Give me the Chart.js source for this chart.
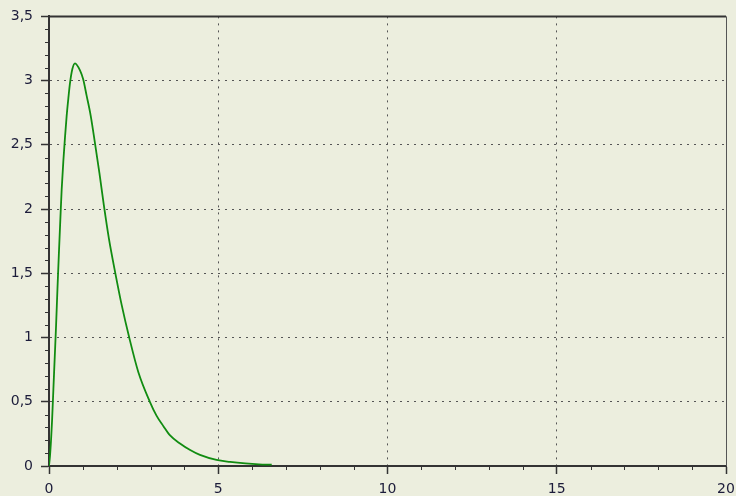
<!DOCTYPE html>
<html>
<head>
<meta charset="utf-8">
<script src="https://cdn.jsdelivr.net/npm/chart.js@4.4.1/dist/chart.umd.min.js"></script>
<style>
  html, body { margin: 0; padding: 0; background: #ECEEDE; }
  #wrap { width: 736px; height: 496px; }
</style>
</head>
<body>
<div id="wrap"><canvas id="c" width="736" height="496"></canvas></div>
<script>
// Density curve sampled along x
const xValues = [0, 0.03, 0.06, 0.09, 0.13, 0.17, 0.21, 0.25, 0.29, 0.335, 0.374, 0.423, 0.473, 0.52, 0.571, 0.62, 0.69, 0.768, 0.916, 1.01, 1.11, 1.23, 1.36, 1.49, 1.62, 1.77, 1.96, 2.15, 2.37, 2.64, 2.98, 3.18, 3.38, 3.57, 3.87, 4.17, 4.46, 4.95, 5.35, 5.80, 6.20, 6.58];
const yValues = [0, 0.08, 0.20, 0.35, 0.60, 0.85, 1.10, 1.38, 1.64, 1.92, 2.15, 2.37, 2.56, 2.72, 2.86, 2.98, 3.09, 3.135, 3.08, 3.01, 2.885, 2.73, 2.51, 2.28, 2.03, 1.77, 1.50, 1.25, 1.00, 0.73, 0.50, 0.39, 0.31, 0.24, 0.175, 0.124, 0.086, 0.047, 0.032, 0.020, 0.013, 0.010];

// Axis ranges and tick steps
const xRange = [0, 20];
const yRange = [0, 3.5];
const xMajorStep = 5, xMinorStep = 1;
const yMajorStep = 0.5, yMinorStep = 0.1;

const points = xValues.map((x, i) => ({ x: x, y: yValues[i] }));

const BG = '#ECEEDE';
const AXIS = '#333333';
const GRID = '#555555';
const LABEL = '#1c1c3a';

const fmt = v => String(Math.round(v * 10) / 10).replace('.', ',');

// Background, frame and minor tick marks
const decor = {
  id: 'decor',
  beforeDraw(chart) {
    const ctx = chart.ctx;
    ctx.save();
    ctx.fillStyle = BG;
    ctx.fillRect(0, 0, chart.width, chart.height);
    ctx.restore();
  },
  afterDraw(chart) {
    const { ctx, chartArea: a, scales } = chart;
    ctx.save();
    // top and right frame lines
    ctx.strokeStyle = AXIS;
    ctx.lineWidth = 2;
    ctx.beginPath();
    ctx.moveTo(a.left, a.top);
    ctx.lineTo(a.right, a.top);
    ctx.stroke();
    ctx.lineWidth = 1;
    ctx.strokeStyle = '#555';
    ctx.beginPath();
    ctx.moveTo(Math.round(a.right) + 0.5, a.top);
    ctx.lineTo(Math.round(a.right) + 0.5, a.bottom);
    ctx.stroke();
    // minor ticks
    ctx.strokeStyle = AXIS;
    ctx.lineWidth = 1;
    ctx.beginPath();
    const ys = scales.y;
    for (let v = yRange[0]; v <= yRange[1] + 1e-9; v += yMinorStep) {
      const r = Math.round(v * 10) / 10;
      if (Math.abs(r / yMajorStep - Math.round(r / yMajorStep)) < 1e-6) continue;
      const py = Math.round(ys.getPixelForValue(r)) + 0.5;
      ctx.moveTo(a.left - 4, py);
      ctx.lineTo(a.left, py);
    }
    const xs = scales.x;
    for (let v = xRange[0]; v <= xRange[1]; v += xMinorStep) {
      if (v % xMajorStep === 0) continue;
      const px = Math.round(xs.getPixelForValue(v)) + 0.5;
      ctx.moveTo(px, a.bottom);
      ctx.lineTo(px, a.bottom + 4);
    }
    ctx.stroke();
    ctx.restore();
  }
};

const gridColor = (ctx, lo, hi) => {
  const v = ctx.tick ? ctx.tick.value : null;
  if (v === null || v <= lo || v >= hi) return 'rgba(0,0,0,0)';
  return GRID;
};

new Chart(document.getElementById('c'), {
  type: 'line',
  data: {
    datasets: [{
      data: points,
      borderColor: '#118c11',
      borderWidth: 1.8,
      pointRadius: 0,
      fill: false,
      cubicInterpolationMode: 'monotone'
    }]
  },
  options: {
    responsive: false,
    animation: false,
    devicePixelRatio: 1,
    layout: { padding: { top: 16, right: 10, left: 0, bottom: 0 } },
    plugins: { legend: { display: false }, tooltip: { enabled: false } },
    scales: {
      x: {
        type: 'linear',
        min: xRange[0],
        max: xRange[1],
        afterFit: s => { s.height = 30; s.paddingLeft = 0; s.paddingRight = 0; },
        ticks: {
          stepSize: xMajorStep,
          color: LABEL,
          padding: 7,
          maxRotation: 0,
          font: { family: 'DejaVu Sans', size: 14 },
          callback: v => fmt(v)
        },
        grid: {
          color: c => gridColor(c, xRange[0], xRange[1]),
          lineWidth: 1,
          drawTicks: true,
          tickLength: 8,
          tickColor: AXIS,
          tickWidth: 1.5
        },
        border: { display: true, color: AXIS, width: 2, dash: [2, 5] }
      },
      y: {
        type: 'linear',
        min: yRange[0],
        max: yRange[1],
        afterFit: s => { s.width = 49; },
        ticks: {
          stepSize: yMajorStep,
          color: LABEL,
          padding: 8,
          font: { family: 'DejaVu Sans', size: 14 },
          callback: v => fmt(v)
        },
        grid: {
          color: c => gridColor(c, yRange[0], yRange[1]),
          lineWidth: 1,
          drawTicks: true,
          tickLength: 8,
          tickColor: AXIS,
          tickWidth: 1.5
        },
        border: { display: true, color: AXIS, width: 2, dash: [2, 5] }
      }
    }
  },
  plugins: [decor]
});
</script>
</body>
</html>
